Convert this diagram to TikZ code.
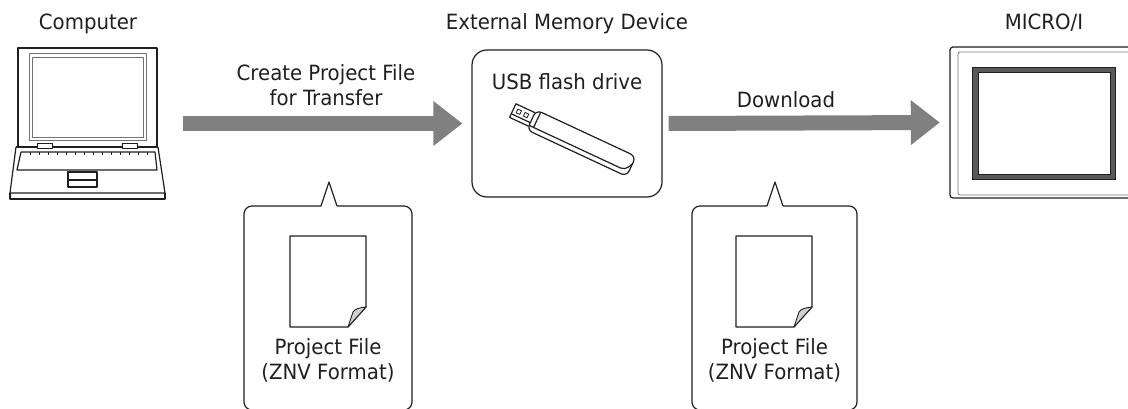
\documentclass[tikz,border=0pt]{standalone}
\usepackage{fontspec}
\setmainfont{DejaVu Sans}[FakeStretch=0.94]
\usetikzlibrary{arrows.meta}
\colorlet{ink}{black!88}
\colorlet{flowgray}{black!50}
\colorlet{bezel}{black!65}
\tikzset{
  caption/.style={font=\fontsize{21}{25}\selectfont, text=ink, align=center, inner sep=0pt},
  pen/.style={draw=ink, line width=1.2pt, line join=round},
  thinpen/.style={draw=black!55, line width=0.8pt},
  flow/.style={draw=flowgray, line width=15pt, -{Triangle[length=29pt,width=43pt]}},
  bubble/.style={pen, rounded corners=8pt},
}
% project file sheet, #1 = top left corner
\newcommand{\filesheet}[1]{
  \begin{scope}[shift={#1}]
    \draw[pen, fill=white] (0,0) -- (76,0) -- (76,71) -- (58,91) -- (0,91) -- cycle;
    \filldraw[pen, fill=black!18, line width=0.9pt]
      (58,91) -- (76,71) .. controls (68,72) and (65,73) .. (63,76) -- cycle;
  \end{scope}
}

\begin{document}
\begin{tikzpicture}[x=1pt,y=-1pt]
  \useasboundingbox (0,0) rectangle (1128,409);
  \clip (0,0) rectangle (1128,409);

  % the three stations
  \node[minimum width=155pt, minimum height=152pt, inner sep=0pt] (computer) at (87.5,123.5) {};
  \node[pen, rounded corners=15pt, minimum width=190pt, minimum height=147pt, inner sep=0pt] (usb) at (567,123.5) {};
  \node[minimum width=186pt, minimum height=151pt, inner sep=0pt] (micro) at (1043,122.5) {};

  \node[caption] (computerlabel) at (88,24) {Computer};
  \node[caption] (usblabel) at (567,24) {External Memory Device};
  \node[caption] (microlabel) at (1044,23) {MICRO/I};
  \node[caption] (usbname) at (567,82) {USB flash drive};

  % laptop
  \draw[pen, line width=1.6pt] (18,147) -- (18,48) -- (157,48) -- (157,147);
  \draw[thinpen] (29,53) rectangle (146,140);
  \draw[thinpen] (32,57) rectangle (143,137);
  \draw[pen, line width=1.6pt] (16,147) -- (158,147);
  \draw[pen, line width=0.8pt, fill=white] (37,143) rectangle (52,148);
  \draw[pen, line width=0.8pt, fill=white] (122,143) rectangle (137,148);
  \draw[pen] (16,147) -- (10,193) -- (165,193) -- (158,147);
  \draw[pen] (10,193) -- (10,199) -- (165,199) -- (165,193);
  \draw[pen] (21,152) -- (155,152) -- (157,170) -- (17,170) -- cycle;
  \foreach \k in {0,...,13}
    \draw[pen, line width=0.8pt] ({30+9*\k},152) -- ++(0,3);
  \draw[pen] (68,172) rectangle (97,187);
  \draw[pen] (68,180) -- (97,180);

  % usb stick
  \begin{scope}[shift={(532,119)}, rotate=-25]
    \draw[pen, fill=white] (0,-7) -- (-21,-7) -- (-21,8) -- (0,8);
    \draw[pen] (-21,4) -- (0,4);
    \draw[pen, line width=0.8pt] (-17,-3) rectangle ++(4,4);
    \draw[pen, line width=0.8pt] (-9,-3) rectangle ++(4,4);
    \draw[pen, rounded corners=6pt, fill=white] (0,-10) -- (110,-10) -- (110,12) -- (0,12) -- cycle;
    \draw[pen, rounded corners=5pt] (0,7) -- (106,7) -- (110,-2);
    \draw[pen] (5,-10) -- (5,7);
  \end{scope}

  % micro/i panel
  \draw[pen, rounded corners=3pt] (950,47) rectangle (1140,198);
  \draw[thinpen, rounded corners=2pt] (958,52) rectangle (1140,195);
  \filldraw[fill=bezel, draw=ink, line width=0.8pt] (972,67) rectangle (1115,179);
  \filldraw[fill=white, draw=ink, line width=0.8pt] (978,72) rectangle (1110,174);

  % transfer arrows
  \draw[flow] ([xshift=18pt]computer.east) -- ([xshift=-9pt]usb.west);
  \draw[flow] ([xshift=6pt]usb.east) -- ([xshift=-10pt]micro.west);
  \node[caption] (create) at (326,85.5) {Create Project File\\for Transfer};
  \node[caption] (download) at (786,100) {Download};

  % callouts with the project file
  \draw[bubble] (321,206) -- (244,206) -- (244,410) -- (412,410) -- (412,206) -- (337,206);
  \draw[pen] (321,206) -- (329,182) -- (337,206);
  \filesheet{(290,236)}
  \node[caption] (file1) at (328,360.5) {Project File\\(ZNV Format)};

  \draw[bubble] (767,206) -- (692,206) -- (692,410) -- (857,410) -- (857,206) -- (783,206);
  \draw[pen] (767,206) -- (775,182) -- (783,206);
  \filesheet{(736,236)}
  \node[caption] (file2) at (774.5,360.5) {Project File\\(ZNV Format)};
\end{tikzpicture}
\end{document}
